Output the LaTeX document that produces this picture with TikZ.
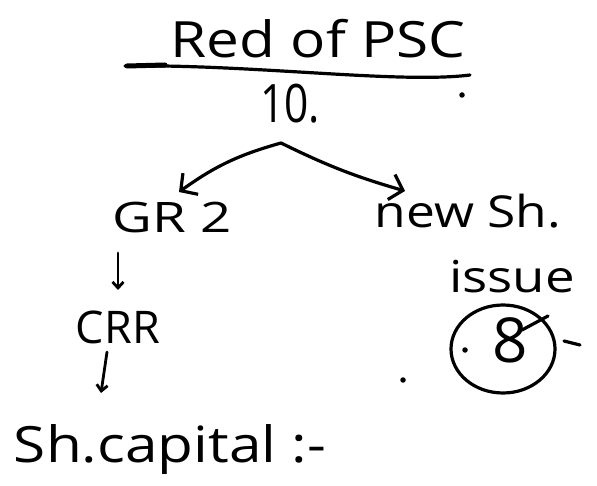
\documentclass[tikz,border=0pt]{standalone}
\usepackage{fontspec}
\usepackage{graphicx}
\setmainfont{Open Sans}
\usetikzlibrary{arrows.meta,calc,shapes.geometric}
\newcommand{\hwfont}[1]{\fontsize{#1}{#1}\selectfont}
\newcommand{\sx}[2]{\scalebox{#1}[1]{#2}}
\begin{document}
\begin{tikzpicture}[x=1pt,y=-1pt,
  hw/.style={inner sep=0pt, anchor=base, text=black},
  pen/.style={line width=3.2pt, line cap=round, line join=round, draw=black},
  bigarrow/.style={pen, -{Straight Barb[length=12pt,width=26pt,line width=3.2pt]}},
  smallarrow/.style={pen, line width=2.8pt, -{Straight Barb[length=6pt,width=11pt,line width=2.8pt]}},
  inkdot/.style={circle, fill=black, inner sep=0pt, minimum size=5.5pt}]
\useasboundingbox[fill=white] (0,0) rectangle (597,486);

\node[hw, font=\hwfont{50}] (title) at (318,58) {\sx{1.17}{Red of PSC}};
\coordinate (ul1) at (125,66);
\coordinate (ul2) at (470,75);
\draw[pen] (ul1) .. controls (250,64) and (400,84) .. (ul2);
\draw[pen, line width=5pt] (127,66) -- (165,65);
\node[inkdot] (d1) at (462,95) {};
\node[hw, font=\hwfont{53}] (ten) at (290,123) {\sx{0.8}{10.}};

\coordinate (apex) at (281,143);
\coordinate (ltip) at (179,192);
\coordinate (rtip) at (405,191);
\draw[bigarrow] (apex) to[bend right=10] (ltip);
\draw[bigarrow] (apex) to[bend right=5] (rtip);

\node[hw, font=\hwfont{42}] (gr) at (172,233) {\sx{1.3}{GR 2}};
\node[hw, font=\hwfont{44}] (newsh) at (468,228) {\sx{1.17}{new Sh.}};
\node[hw, font=\hwfont{44}] (issue) at (512,293) {\sx{1.2}{issue}};

\node[hw, font=\hwfont{62}] (eight) at (510,362) {8};
\node[pen, ellipse, minimum width=104pt, minimum height=88pt] (ring) at (503,349) {};
\draw[pen] (522,330) -- (548,316);
\node[inkdot] (d2) at (465,350) {};
\coordinate (ds1) at (564,341);
\coordinate (ds2) at (580,345);
\draw[pen] (ds1) -- (ds2);

\coordinate (a1s) at (118,253);
\coordinate (a1e) at (118,290);
\draw[smallarrow] (a1s) -- (a1e);
\node[hw, font=\hwfont{45}] (crr) at (118,343) {CRR};
\coordinate (a2s) at (107,352);
\coordinate (a2e) at (101,393);
\draw[smallarrow] (a2s) -- (a2e);
\node[hw, font=\hwfont{50}] (cap) at (170,462) {\sx{1.17}{Sh.capital :-}};
\node[inkdot] (d3) at (403,380) {};
\end{tikzpicture}
\end{document}
